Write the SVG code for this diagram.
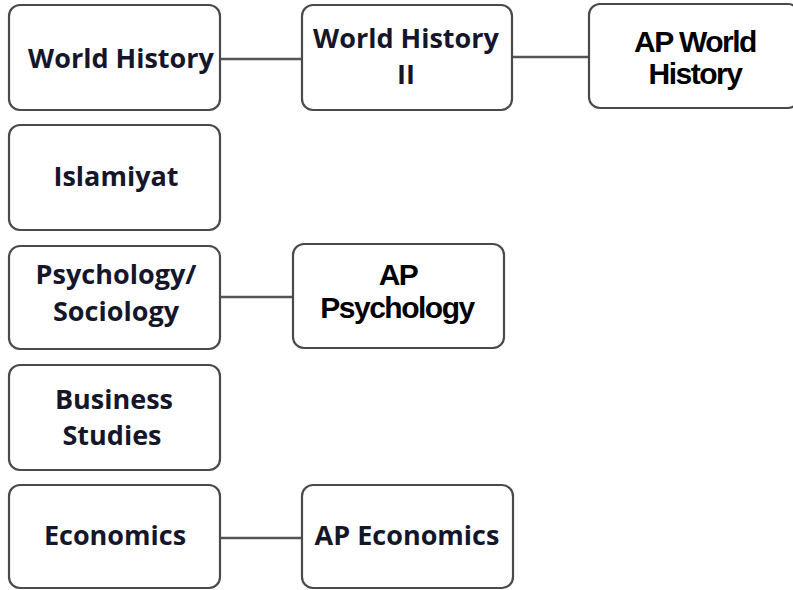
<svg xmlns="http://www.w3.org/2000/svg" width="793" height="590" viewBox="0 0 793 590">
<style>
.box{fill:#fff;stroke:#4a4a4a;stroke-width:2.2}
.t1{font-family:"Open Sans","DejaVu Sans",sans-serif;font-weight:700;font-size:27px;fill:#16162a;text-anchor:middle}
.t2{font-family:"Liberation Sans",Arial,sans-serif;font-weight:700;font-size:30px;fill:#000;text-anchor:middle;letter-spacing:-1.5px}
.conn{stroke:#555;stroke-width:2.5;fill:none}
</style>
<rect width="793" height="590" fill="#fff"/>
<g id="connectors">
<line class="conn" x1="220" y1="59" x2="302" y2="59"/>
<line class="conn" x1="512" y1="57" x2="589" y2="57"/>
<line class="conn" x1="220" y1="297" x2="293" y2="297"/>
<line class="conn" x1="220" y1="538" x2="302" y2="538"/>
</g>
<g id="world-history">
<rect class="box" x="9" y="5" width="211" height="105" rx="11"/>
<text class="t1" x="121" y="68">World History</text>
</g>
<g id="world-history-ii">
<rect class="box" x="302" y="5" width="210" height="105" rx="11"/>
<text class="t1" x="406" y="48">World History</text>
<text class="t1" x="406" y="84">II</text>
</g>
<g id="ap-world-history">
<rect class="box" x="589" y="4" width="210" height="104" rx="11"/>
<text class="t2" x="695" y="52">AP World</text>
<text class="t2" x="695" y="84">History</text>
</g>
<g id="islamiyat">
<rect class="box" x="9" y="125" width="211" height="105" rx="11"/>
<text class="t1" x="116" y="186">Islamiyat</text>
</g>
<g id="psychology-sociology">
<rect class="box" x="9" y="246" width="211" height="103" rx="11"/>
<text class="t1" x="116" y="284">Psychology/</text>
<text class="t1" x="116" y="321">Sociology</text>
</g>
<g id="ap-psychology">
<rect class="box" x="293" y="244" width="211" height="104" rx="11"/>
<text class="t2" x="398" y="285">AP</text>
<text class="t2" x="397" y="318">Psychology</text>
</g>
<g id="business-studies">
<rect class="box" x="9" y="365" width="211" height="105" rx="11"/>
<text class="t1" x="114" y="409">Business</text>
<text class="t1" x="112" y="445">Studies</text>
</g>
<g id="economics">
<rect class="box" x="9" y="485" width="211" height="103" rx="11"/>
<text class="t1" x="115" y="545">Economics</text>
</g>
<g id="ap-economics">
<rect class="box" x="302" y="485" width="211" height="103" rx="11"/>
<text class="t1" x="407" y="545">AP Economics</text>
</g>
</svg>
